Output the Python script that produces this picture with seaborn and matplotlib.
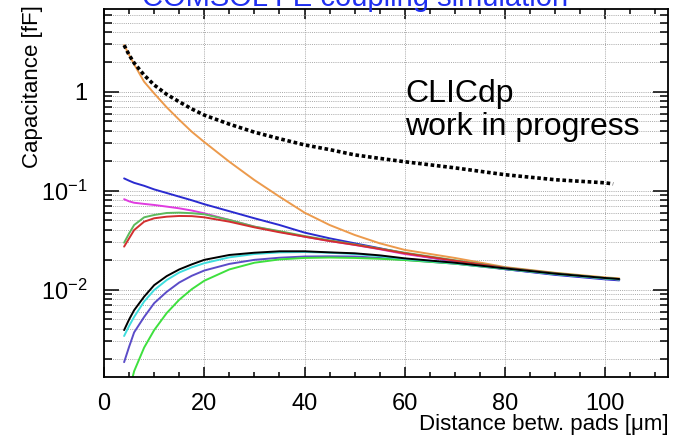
import matplotlib
matplotlib.use("Agg")
import matplotlib.pyplot as plt
import pandas as pd
import seaborn as sns
from matplotlib.ticker import MultipleLocator, LogLocator, FixedLocator, FixedFormatter, NullFormatter

# Pad distance (um) at which each curve was evaluated
distance = [4, 5, 6, 8, 10, 12.5, 15, 17.5, 20, 25, 30, 35, 40, 45, 50, 55, 60,
            70, 80, 90, 100, 102.8]
distance_total = [4, 5, 6, 8, 10, 12.5, 15, 17.5, 20, 25, 30, 35, 40, 45, 50, 55,
                  60, 70, 80, 90, 100, 101.6]

# Capacitance values [fF]
cap_total = [2.95, 2.35, 1.95, 1.47, 1.17, 0.94, 0.79, 0.67, 0.58, 0.47, 0.39,
             0.335, 0.29, 0.26, 0.23, 0.212, 0.196, 0.17, 0.145, 0.129, 0.12, 0.117]
cap_orange = [2.96, 2.35, 1.89, 1.26, 0.96, 0.695, 0.52, 0.394, 0.31, 0.196, 0.128,
              0.087, 0.060, 0.045, 0.0357, 0.0294, 0.0252, 0.0209, 0.0169, 0.0148,
              0.0133, 0.0130]
cap_blue = [0.133, 0.126, 0.120, 0.112, 0.103, 0.0947, 0.087, 0.080, 0.073, 0.062,
            0.0526, 0.045, 0.0377, 0.033, 0.0294, 0.0262, 0.0233, 0.0192, 0.0161,
            0.0141, 0.0127, 0.0124]
cap_magenta = [0.082, 0.078, 0.0755, 0.0735, 0.0717, 0.069, 0.0663, 0.063, 0.059,
               0.0506, 0.0433, 0.0385, 0.0343, 0.031, 0.0283, 0.0256, 0.0229, 0.0194,
               0.0165, 0.0145, 0.0130, 0.0127]
cap_green = [0.0298, 0.037, 0.045, 0.0538, 0.0568, 0.0595, 0.060, 0.0592, 0.0577,
             0.0506, 0.0433, 0.039, 0.0348, 0.0315, 0.0287, 0.026, 0.0236, 0.0198,
             0.0167, 0.0147, 0.0131, 0.0128]
cap_red = [0.0272, 0.033, 0.040, 0.0486, 0.0526, 0.0546, 0.0555, 0.0553, 0.0538,
           0.0486, 0.0426, 0.038, 0.0343, 0.031, 0.0284, 0.0258, 0.0233, 0.0196,
           0.0166, 0.0146, 0.0130, 0.0127]
cap_black = [0.0039, 0.0050, 0.0062, 0.0085, 0.0111, 0.0137, 0.016, 0.018, 0.020,
             0.0224, 0.0236, 0.0244, 0.0244, 0.0238, 0.0233, 0.0222, 0.0207, 0.0187,
             0.0164, 0.0145, 0.0131, 0.0128]
cap_cyan = [0.0034, 0.0043, 0.0053, 0.0076, 0.0099, 0.0125, 0.0149, 0.0168, 0.0185,
            0.0212, 0.0229, 0.0238, 0.024, 0.0236, 0.0229, 0.0218, 0.0204, 0.0185,
            0.0163, 0.0144, 0.0130, 0.0127]
cap_purple = [0.00185, 0.00265, 0.0037, 0.0053, 0.0073, 0.0095, 0.0118, 0.0138,
              0.0156, 0.0182, 0.020, 0.021, 0.0216, 0.0217, 0.0216, 0.0209, 0.020,
              0.0183, 0.0161, 0.0143, 0.0129, 0.0126]
cap_lime = [0.0006, 0.00095, 0.0015, 0.0026, 0.0039, 0.0058, 0.0079, 0.0101, 0.0123,
            0.016, 0.0187, 0.0202, 0.0209, 0.0211, 0.0209, 0.0205, 0.0199, 0.0183,
            0.0162, 0.0144, 0.0130, 0.0127]

xtick_values = [0, 20, 40, 60, 80, 100]
xtick_labels = ["0", "20", "40", "60", "80", "100"]
ytick_values = [0.01, 0.1, 1]
ytick_labels = [r"$10^{-2}$", r"$10^{-1}$", "1"]

sns.set_theme(style="white")
plt.rcParams["font.family"] = ["Liberation Sans", "DejaVu Sans"]
plt.rcParams["mathtext.fontset"] = "custom"
plt.rcParams["mathtext.rm"] = "Liberation Sans"
plt.rcParams["mathtext.it"] = "Liberation Sans:italic"
plt.rcParams["mathtext.bf"] = "Liberation Sans:bold"
plt.rcParams["mathtext.sf"] = "Liberation Sans"
plt.rcParams["text.color"] = "black"
plt.rcParams["axes.labelcolor"] = "black"

fig = plt.figure(figsize=(6.82, 4.41), dpi=100)
ax = fig.add_axes([0.1526, 0.1444, 0.9799 - 0.1526, 0.9796 - 0.1444])

lines = [
    (distance, cap_orange, "#ec9a4c"),
    (distance, cap_blue, "#2b2bd0"),
    (distance, cap_magenta, "#e03ce0"),
    (distance, cap_green, "#5cba5c"),
    (distance, cap_red, "#d22f2f"),
    (distance, cap_purple, "#5b4cc8"),
    (distance, cap_lime, "#3ee03e"),
    (distance, cap_cyan, "#3fdede"),
    (distance, cap_black, "#000000"),
]
for xs, ys, col in lines:
    df = pd.DataFrame({"d": xs, "c": ys})
    sns.lineplot(data=df, x="d", y="c", ax=ax, color=col, lw=1.4, sort=False)

df_total = pd.DataFrame({"d": distance_total, "c": cap_total})
sns.lineplot(data=df_total, x="d", y="c", ax=ax, color="black", lw=2.6,
             linestyle=(0, (1, 0.75)), sort=False, dash_capstyle="butt")

ax.set_yscale("log")
ax.set_xlim(0, 112.6)
ax.set_ylim(1.30e-3, 6.85)

ax.xaxis.set_major_locator(FixedLocator(xtick_values))
ax.xaxis.set_major_formatter(FixedFormatter(xtick_labels))
ax.xaxis.set_minor_locator(MultipleLocator(5))
ax.yaxis.set_major_locator(FixedLocator(ytick_values))
ax.yaxis.set_major_formatter(FixedFormatter(ytick_labels))
ax.yaxis.set_minor_locator(LogLocator(base=10, subs=range(2, 10), numticks=20))
ax.yaxis.set_minor_formatter(NullFormatter())

grid_kw = dict(color="#a8a8a8", linestyle=(0, (1, 1.2)), linewidth=0.7)
ax.grid(which="major", axis="x", **grid_kw)
ax.grid(which="both", axis="y", **grid_kw)
ax.set_axisbelow(True)

ax.tick_params(which="both", direction="in", top=True, right=True, bottom=True,
               left=True, colors="black", labelsize=17, width=1.1)
ax.tick_params(axis="x", which="major", length=7.2, pad=11)
ax.tick_params(axis="x", which="minor", length=3.6)
ax.tick_params(axis="y", which="major", length=10.8, pad=12)
ax.tick_params(axis="y", which="minor", length=5.8)
for sp in ax.spines.values():
    sp.set_color("black")
    sp.set_linewidth(1.3)

ax.set_xlabel("Distance betw. pads [\u03bcm]", fontsize=16, ha="right", va="top")
ax.xaxis.set_label_coords(1.0, -0.1)
ax.set_ylabel("Capacitance [fF]", fontsize=16, ha="right")
ax.yaxis.set_label_coords(-0.108, 1.01)

ax.text(0.5337, 0.7473, "CLICdp", transform=ax.transAxes, fontsize=23,
        ha="left", va="baseline")
ax.text(0.5337, 0.6576, "work in progress", transform=ax.transAxes, fontsize=23,
        ha="left", va="baseline")

fig.text(355 / 682, 1 - 6 / 441, "COMSOL FE coupling simulation", color="#1f2ff0",
         fontsize=21, ha="center", va="baseline")

fig.savefig("out.png", dpi=100)
